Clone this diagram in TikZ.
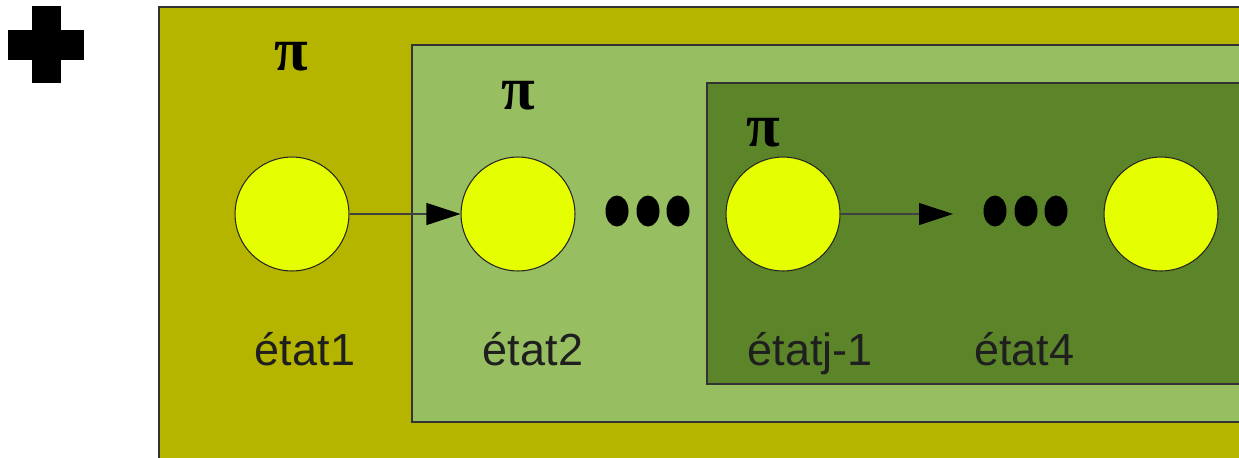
\documentclass[tikz,border=0pt]{standalone}
\usepackage{fontspec}
\setmainfont{Liberation Sans}
\newfontfamily\pifont{Liberation Serif}
\usetikzlibrary{arrows.meta,positioning}
\definecolor{cadreOlive}{RGB}{181,181,0}
\definecolor{cadreClair}{RGB}{151,190,96}
\definecolor{cadreFonce}{RGB}{92,133,41}
\definecolor{etatJaune}{RGB}{230,255,0}
\tikzset{
	cadre/.style={draw=black!80, line width=0.6pt},
	etat/.style={
		circle,
		draw=black!85,
		fill=etatJaune,
		minimum size=2.28cm,
		inner sep=0pt,
		line width=0.6pt
	},
	nom/.style={anchor=base, inner sep=0pt, text=black!88, font=\fontsize{25.6}{30}\selectfont},
	symb/.style={inner sep=0pt, font=\pifont\bfseries\fontsize{35}{40}\selectfont},
	fleche/.style={-{Triangle[length=0.68cm, width=0.44cm, color=black]}, line width=0.6pt, black!75}
}

\begin{document}
\begin{tikzpicture}[x=0.02cm, y=-0.02cm]
		\clip (0,0) rectangle (1239,457);
		\fill[white] (0,0) rectangle (1239,457);
		% plus sign
		\fill[black] (8,30) rectangle (84,60);
		\fill[black] (32,6) rectangle (61,83);
		% nested frames
		\filldraw[cadre, fill=cadreOlive] (159,7) rectangle (1260,480);
		\filldraw[cadre, fill=cadreClair] (412,45) rectangle (1260,422);
		\filldraw[cadre, fill=cadreFonce] (707,83) rectangle (1260,384);
		\node[symb] (p1) at (291,57) {π};
		\node[symb] (p2) at (518,96) {π};
		\node[symb] (p3) at (763,133) {π};
		% states
		\node[etat] (s1) at (292,214) {};
		\node[etat] (s2) at (518,214) {};
		\node[etat] (s3) at (783,214) {};
		\node[etat] (s4) at (1161,214) {};
		\coordinate (c3) at (953,214);
		\draw[fleche] (s1) -- (s2);
		\draw[fleche] (s3) -- (c3);
		% dots
		\foreach \x in {617,648,678,995,1026,1056}
			\fill[black] (\x,211) ellipse [x radius=11.5, y radius=15.5];
		% labels
		\node[nom] (n1) at (305,365) {état1};
		\node[nom] (n2) at (533,365) {état2};
		\node[nom] (n3) at (810,365) {étatj-1};
		\node[nom] (n4) at (1024,365) {état4};
	\end{tikzpicture}
\end{document}
